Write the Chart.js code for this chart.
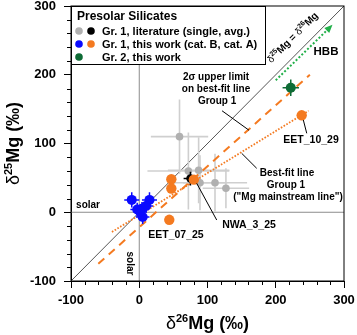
<!DOCTYPE html>
<html>
<head>
<meta charset="utf-8">
<script src="https://cdn.jsdelivr.net/npm/chart.js@4.4.1/dist/chart.umd.min.js"></script>
<style>
  html, body { margin: 0; padding: 0; background: #fff; }
  canvas { display: block; }
</style>
</head>
<body>
<canvas id="chart" width="357" height="335"></canvas>
<script>
// Gr. 1 literature, single grains (grey) with 1 sigma errors
const litX = [59, 72, 87, 89, 111, 127];
const litY = [110, 60, 61, 43, 43, 35];
const litErrX = [42, 60, 45, 40, 47, 34];
const litErrY = [54, 56, 48, 40, 42, 29];
// Gr. 1 literature average (black)
const avgX = [75];
const avgY = [49];
const avgErrX = [10];
const avgErrY = [10];
// Gr. 1 this work, cat. B (blue)
const catBX = [-11, 15, -3, 4, 10, 5, 1];
const catBY = [18, 18, 4, 5, 9, -7, 1];
const catBErrX = [11, 11, 10, 10, 10, 10, 10];
const catBErrY = [11, 11, 10, 10, 10, 10, 10];
// Gr. 1 this work, cat. A (orange)
const catAX = [238, 80, 47, 47, 44];
const catAY = [141, 47.5, 48, 34.5, -11];
// Gr. 2 this work (green)
const gr2X = [222];
const gr2Y = [181];
const gr2ErrX = [12];
const gr2ErrY = [12];
// reference lines (end points)
const unityX = [-100, 300], unityY = [-100, 300];
const solarHX = [-100, 300], solarHY = [0, 0];
const solarVX = [0, 0], solarVY = [-100, 300];
const bestFitX = [-40, 248], bestFitY = [-28.6, 147.5];
const upperX = [-60, 250], upperY = [-75, 200];
const hbbX = [200, 280], hbbY = [192, 269.5];
// ticks
const majorTicks = [-100, 0, 100, 200, 300];

const FONT = "'Liberation Sans', Arial, sans-serif";
Chart.defaults.font.family = FONT;

const pts = (xs, ys) => xs.map((v, i) => ({ x: v, y: ys[i] }));

function lineSet(xs, ys, color, width, dash, order) {
  return {
    data: pts(xs, ys), showLine: true, pointRadius: 0, borderColor: color,
    borderWidth: width, borderDash: dash, order: order, fill: false
  };
}

// draw text with superscript parts
function rich(ctx, parts, x, y) {
  let w = 0;
  parts.forEach(p => { ctx.font = p.f; w += ctx.measureText(p.t).width; });
  let cx = x - w / 2;
  ctx.textAlign = "left";
  ctx.textBaseline = "alphabetic";
  parts.forEach(p => {
    ctx.font = p.f;
    ctx.fillText(p.t, cx, y + (p.dy || 0));
    cx += ctx.measureText(p.t).width;
  });
}

const errorBars = {
  id: "errorBars",
  beforeDatasetDraw(chart, args) {
    const ds = chart.data.datasets[args.index];
    if (!ds.errX) return;
    const { ctx, scales: { x, y } } = chart;
    ctx.save();
    ctx.strokeStyle = ds.errColor;
    ctx.lineWidth = ds.errWidth;
    ds.data.forEach((p, i) => {
      const px = x.getPixelForValue(p.x), py = y.getPixelForValue(p.y);
      ctx.beginPath();
      ctx.moveTo(x.getPixelForValue(p.x - ds.errX[i]), py);
      ctx.lineTo(x.getPixelForValue(p.x + ds.errX[i]), py);
      ctx.moveTo(px, y.getPixelForValue(p.y - ds.errY[i]));
      ctx.lineTo(px, y.getPixelForValue(p.y + ds.errY[i]));
      ctx.stroke();
    });
    ctx.restore();
  }
};

const notes = [
  { t: "2σ upper limit", x: 112.5, y: 196.7 },
  { t: "on best-fit line", x: 112.5, y: 179.3 },
  { t: "Group 1", x: 114, y: 161.8 },
  { t: "Best-fit line", x: 216.5, y: 57.1 },
  { t: "Group 1", x: 215, y: 39.6 },
  { t: "(\"Mg mainstream line\")", x: 218, y: 22.2 },
  { t: "EET_10_29", x: 251.7, y: 104.4, s: 10.5 },
  { t: "NWA_3_25", x: 160.8, y: -18.5, s: 10.5 },
  { t: "EET_07_25", x: 53.8, y: -33.1, s: 10.5 },
  { t: "solar", x: -75, y: 10.5 },
  { t: "HBB", x: 273.6, y: 233.1, s: 11.5 }
];
const leaders = [
  [121.3, 147.6, 160.8, 119.3],
  [150.1, 85.7, 172.1, 63.9],
  [240.4, 134.2, 245.4, 114.8],
  [84.2, 42.1, 113.5, -11.3]
];

const extras = {
  id: "extras",
  afterDraw(chart) {
    const { ctx, chartArea: a, scales: { x, y } } = chart;
    ctx.save();
    // frame
    ctx.strokeStyle = "#000";
    ctx.lineWidth = 1;
    ctx.strokeRect(a.left, a.top, a.right - a.left, a.bottom - a.top);
    // minor ticks
    ctx.beginPath();
    for (let v = -100; v <= 300; v += 20) {
      if (majorTicks.includes(v)) continue;
      const px = Math.round(x.getPixelForValue(v)) + 0.5;
      ctx.moveTo(px, a.bottom); ctx.lineTo(px, a.bottom + 4);
      const py = Math.round(y.getPixelForValue(v)) + 0.5;
      ctx.moveTo(a.left, py); ctx.lineTo(a.left - 4, py);
    }
    ctx.stroke();

    // HBB arrow head
    const hx1 = x.getPixelForValue(hbbX[0]), hy1 = y.getPixelForValue(hbbY[0]);
    const hx2 = x.getPixelForValue(hbbX[1]), hy2 = y.getPixelForValue(hbbY[1]);
    const ang = Math.atan2(hy2 - hy1, hx2 - hx1);
    ctx.fillStyle = "#22b04a";
    ctx.beginPath();
    ctx.moveTo(hx2 + 3 * Math.cos(ang), hy2 + 3 * Math.sin(ang));
    ctx.lineTo(hx2 - 5 * Math.cos(ang) + 3.5 * Math.sin(ang), hy2 - 5 * Math.sin(ang) - 3.5 * Math.cos(ang));
    ctx.lineTo(hx2 - 5 * Math.cos(ang) - 3.5 * Math.sin(ang), hy2 - 5 * Math.sin(ang) + 3.5 * Math.cos(ang));
    ctx.closePath();
    ctx.fill();

    // leader lines
    ctx.strokeStyle = "#000";
    ctx.lineWidth = 1;
    leaders.forEach(l => {
      ctx.beginPath();
      ctx.moveTo(x.getPixelForValue(l[0]), y.getPixelForValue(l[1]));
      ctx.lineTo(x.getPixelForValue(l[2]), y.getPixelForValue(l[3]));
      ctx.stroke();
    });

    // annotations
    ctx.fillStyle = "#000";
    ctx.textAlign = "center";
    ctx.textBaseline = "middle";
    notes.forEach(n => {
      ctx.font = "bold " + (n.s || 10) + "px " + FONT;
      ctx.fillText(n.t, x.getPixelForValue(n.x), y.getPixelForValue(n.y));
    });
    // vertical "solar"
    ctx.save();
    ctx.translate(x.getPixelForValue(-14.3), y.getPixelForValue(-74.5));
    ctx.rotate(Math.PI / 2);
    ctx.font = "bold 10px " + FONT;
    ctx.fillText("solar", 0, 0);
    ctx.restore();
    // label on 1:1 line
    ctx.save();
    ctx.translate(x.getPixelForValue(225), y.getPixelForValue(254));
    ctx.rotate(-Math.PI / 4);
    rich(ctx, [
      { t: "δ", f: "10px " + FONT },
      { t: "25", f: "bold 7px " + FONT, dy: -4 },
      { t: "Mg = ", f: "bold 10px " + FONT },
      { t: "δ", f: "10px " + FONT },
      { t: "26", f: "bold 7px " + FONT, dy: -4 },
      { t: "Mg", f: "bold 10px " + FONT }
    ], 0, 3);
    ctx.restore();

    // legend box
    const lx = a.left, ly = a.top, lw = 194, lh = 58;
    ctx.fillStyle = "#fff";
    ctx.fillRect(lx, ly, lw, lh);
    ctx.strokeStyle = "#000";
    ctx.strokeRect(lx + 0.5, ly + 0.5, lw, lh);
    ctx.fillStyle = "#000";
    ctx.textAlign = "left";
    ctx.textBaseline = "middle";
    ctx.font = "bold 12px " + FONT;
    ctx.fillText("Presolar Silicates", lx + 6, ly + 10.5);
    const rows = [
      { c: ["#b0b0b0", "#000000"], t: "Gr. 1, literature (single, avg.)" },
      { c: ["#0a0aff", "#f47a20"], t: "Gr. 1, this work (cat. B, cat. A)" },
      { c: ["#0e6b35"], t: "Gr. 2, this work" }
    ];
    rows.forEach((r, i) => {
      const ry = ly + 25 + i * 13;
      r.c.forEach((c, j) => {
        ctx.fillStyle = c;
        ctx.beginPath();
        ctx.arc(lx + 8 + j * 12, ry, 3.8, 0, Math.PI * 2);
        ctx.fill();
      });
      ctx.fillStyle = "#000";
      ctx.font = "bold 11px " + FONT;
      ctx.fillText(r.t, lx + 31, ry + 0.5);
    });

    // axis titles
    ctx.fillStyle = "#000";
    const midX = (a.left + a.right) / 2, midY = (a.top + a.bottom) / 2;
    rich(ctx, [
      { t: "δ", f: "18px " + FONT },
      { t: "26", f: "bold 11px " + FONT, dy: -7 },
      { t: "Mg (‰)", f: "bold 18px " + FONT }
    ], midX, 329);
    ctx.save();
    ctx.translate(19, midY);
    ctx.rotate(-Math.PI / 2);
    rich(ctx, [
      { t: "δ", f: "18px " + FONT },
      { t: "25", f: "bold 11px " + FONT, dy: -7 },
      { t: "Mg (‰)", f: "bold 18px " + FONT }
    ], 0, 0);
    ctx.restore();
    ctx.restore();
  }
};

const tickCfg = {
  stepSize: 20,
  autoSkip: false,
  maxRotation: 0,
  color: "#000",
  font: { size: 13, weight: "bold" },
  callback: v => (majorTicks.includes(v) ? v : "")
};

const chart = new Chart(document.getElementById("chart"), {
  type: "scatter",
  plugins: [errorBars, extras],
  data: {
    datasets: [
      lineSet(solarHX, solarHY, "#8c8c8c", 1, [], 20),
      lineSet(solarVX, solarVY, "#8c8c8c", 1, [], 20),
      lineSet(unityX, unityY, "#555555", 1, [], 19),
      {
        data: pts(litX, litY), errX: litErrX, errY: litErrY, errColor: "#cfcfcf", errWidth: 1.6,
        backgroundColor: "#b0b0b0", pointRadius: 3.8, borderWidth: 0, order: 15
      },
      lineSet(upperX, upperY, "#f47a20", 2, [8, 6], 10),
      lineSet(bestFitX, bestFitY, "#f47a20", 1.8, [1.6, 1.6], 10),
      lineSet(hbbX, hbbY, "#22b04a", 2, [2, 2], 10),
      {
        data: pts(avgX, avgY), errX: avgErrX, errY: avgErrY, errColor: "#000", errWidth: 1.5,
        backgroundColor: "#000", pointRadius: 4.2, borderWidth: 0, order: 5
      },
      {
        data: pts(catBX, catBY), errX: catBErrX, errY: catBErrY, errColor: "#0a0aff", errWidth: 1.5,
        backgroundColor: "#0a0aff", pointRadius: 5, borderWidth: 0, order: 4
      },
      {
        data: pts(catAX, catAY),
        backgroundColor: "#f47a20", pointRadius: 5.2, borderWidth: 0, order: 3
      },
      {
        data: pts(gr2X, gr2Y), errX: gr2ErrX, errY: gr2ErrY, errColor: "#0e6b35", errWidth: 1.5,
        backgroundColor: "#0e6b35", pointRadius: 5, borderWidth: 0, order: 2
      }
    ]
  },
  options: {
    responsive: false,
    animation: false,
    devicePixelRatio: 1,
    layout: { padding: { top: 6, right: 13, left: 0, bottom: 0 } },
    plugins: { legend: { display: false }, tooltip: { enabled: false } },
    scales: {
      x: {
        type: "linear", min: -100, max: 300,
        ticks: Object.assign({ padding: 5 }, tickCfg),
        grid: {
          drawOnChartArea: false, tickLength: 7,
          tickColor: c => (majorTicks.includes(c.tick.value) ? "#000" : "rgba(0,0,0,0)")
        },
        border: { color: "#000", width: 1 },
        afterFit: s => { s.height = 54; s.paddingLeft = 0; s.paddingRight = 0; }
      },
      y: {
        type: "linear", min: -100, max: 300,
        ticks: Object.assign({ padding: 8 }, tickCfg),
        grid: {
          drawOnChartArea: false, tickLength: 7,
          tickColor: c => (majorTicks.includes(c.tick.value) ? "#000" : "rgba(0,0,0,0)")
        },
        border: { color: "#000", width: 1 },
        afterFit: s => { s.width = 71; s.paddingTop = 0; s.paddingBottom = 0; }
      }
    }
  }
});
</script>
</body>
</html>
